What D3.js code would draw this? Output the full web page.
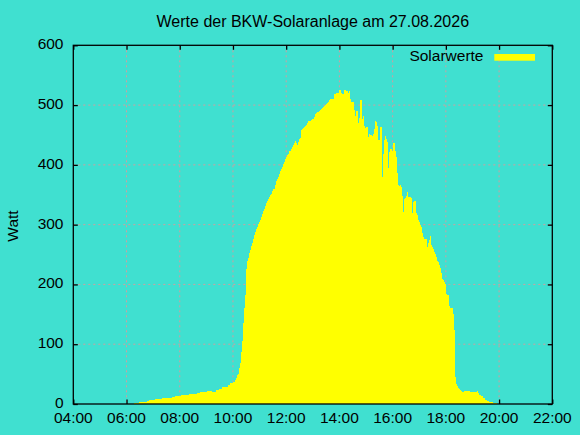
<!DOCTYPE html>
<html>
<head>
<meta charset="utf-8">
<script src="https://cdn.jsdelivr.net/npm/d3@7/dist/d3.min.js"></script>
<style>
  html, body { margin: 0; padding: 0; background: #40E0D0; }
  svg { display: block; }
  text { font-family: "Liberation Sans", Arial, sans-serif; fill: #000; }
</style>
</head>
<body>
<svg id="chart" width="580" height="435"></svg>
<script>
// ---- data ----
const chartTitle = "Werte der BKW-Solaranlage am 27.08.2026";
const yLabel = "Watt";
const seriesName = "Solarwerte";
const xTickLabels = ["04:00","06:00","08:00","10:00","12:00","14:00","16:00","18:00","20:00","22:00"];
const yTickValues = [0, 100, 200, 300, 400, 500, 600];
const sampleStart = "06:17";
const sampleStepMin = 2.25;
const solarValues = [
  2,2,2,2,2, 3,3,3,3,3,3, 4,4,5,5, 7,7,7,7,7,7, 8,8,8,8,8,8,8,
  10,10,10,10,10,10,10,10,10,10, 12,12,12, 13,13,13,13,13,13,
  15,15,15,15,15,15,15,15, 16,17,17,17,17,17,17,17, 18,18,18,
  20,20,20,20,20,20,20, 22,22,22,22,22, 20,20,20,20, 23,23,23, 25,25,25,
  28,28,28,28,28,28, 32,32, 35,35,35, 36,37,40,43,48,
  51,60,68,87,105,135,160,182,
  225,239,245,252,257,264,269,276,282,287,
  292,296,301,304,307,312,317,322,327,332,
  336,339,343,346,349,352,356,359,359,366,
  373,376,379,384,389,393,396,401,404,409,
  413,416,419,423,424,426,430,433,436,440,
  436,434,438,443,445,458,460,461,463,465,
  466,470,473,473,473,475,476,476,480,485,
  486,488,488,490,491,493,495,496,498,500,
  501,503,505,508,
  511,511,511,511, 518,518, 521,521,521, 525,525, 521, 518,518, 526,526, 523,523, 521, 523,
  511, 505,505,505, 491, 481, 490,490, 470, 478, 508,508, 476, 481, 465, 461, 463,463,
  446, 451, 450,450, 448, 451, 460, 473, 471, 465, 441,441, 463,463, 379, 418, 441, 448,
  443, 438, 394, 421, 426,426, 423, 436,436, 424, 413, 386, 366, 364, 366, 363, 348, 321,
  331, 343, 344, 348, 354, 346,346,346, 344, 319, 338, 339,339, 319, 316, 307, 304, 299,
  296, 286, 279, 276,276,276, 262, 269, 274, 281, 266, 262, 259, 254, 251, 246, 239, 237,
  232, 227, 219, 209, 207, 204, 201, 184, 182, 182, 164, 160,160,160, 150, 124,
  46, 33, 30, 27, 25, 23, 22, 20,20, 22,22,22,22,22,22, 20,20,20,20,20,20,20, 22, 18,
  15,15, 13,13, 10,10, 7,7, 5,5, 3,3,3,3, 2,2, 1,1
];

// ---- helpers ----
const toMin = s => { const [h, m] = s.split(":").map(Number); return h * 60 + m; };
const startMin = toMin(sampleStart);
const points = solarValues.map((v, i) => ({ t: startMin + i * sampleStepMin, v }));
points.push({ t: startMin + solarValues.length * sampleStepMin, v: solarValues[solarValues.length - 1] });

// ---- layout ----
const W = 580, H = 435;
const plot = { left: 73.3, right: 552.3, top: 45.3, bottom: 404 };
const svg = d3.select("#chart");
svg.append("rect").attr("width", W).attr("height", H).attr("fill", "#40E0D0");

const x = d3.scaleLinear()
  .domain([toMin(xTickLabels[0]), toMin(xTickLabels[xTickLabels.length - 1])])
  .range([plot.left, plot.right]);
const y = d3.scaleLinear().domain([0, 600]).range([plot.bottom, plot.top]);

const xTicks = xTickLabels.map(toMin);
const fmt = m => String(Math.floor(m / 60)).padStart(2, "0") + ":" + String(m % 60).padStart(2, "0");

// grid
const gridColor = "#cf9f9f";
const grid = svg.append("g");
grid.selectAll("line.gx").data(xTicks.slice(1, -1)).join("line")
  .attr("x1", d => x(d)).attr("x2", d => x(d))
  .attr("y1", plot.top).attr("y2", plot.bottom)
  .attr("stroke", gridColor).attr("stroke-width", 1).attr("stroke-dasharray", "2,3");
grid.selectAll("line.gy").data(yTickValues.slice(1, -1)).join("line")
  .attr("y1", d => y(d)).attr("y2", d => y(d))
  .attr("x1", plot.left).attr("x2", plot.right)
  .attr("stroke", gridColor).attr("stroke-width", 1).attr("stroke-dasharray", "2,3");

// ticks (mirrored, inward) via axes
const tl = 4.5;
const axB = svg.append("g").attr("transform", `translate(0,${plot.bottom})`)
  .call(d3.axisBottom(x).tickValues(xTicks).tickSize(-tl).tickFormat(""));
const axT = svg.append("g").attr("transform", `translate(0,${plot.top})`)
  .call(d3.axisTop(x).tickValues(xTicks).tickSize(-tl).tickFormat(""));
const axL = svg.append("g").attr("transform", `translate(${plot.left},0)`)
  .call(d3.axisLeft(y).tickValues(yTickValues).tickSize(-tl).tickFormat(""));
const axR = svg.append("g").attr("transform", `translate(${plot.right},0)`)
  .call(d3.axisRight(y).tickValues(yTickValues).tickSize(-tl).tickFormat(""));
[axB, axT, axL, axR].forEach(g => {
  g.select(".domain").remove();
  g.selectAll(".tick line").attr("stroke", "#000").attr("stroke-width", 1.3);
});

// data area
const area = d3.area()
  .x(d => x(d.t)).y0(y(0)).y1(d => y(d.v))
  .curve(d3.curveStepAfter);
svg.append("path").datum(points)
  .attr("d", area).attr("fill", "#ffff00").attr("shape-rendering", "crispEdges");

// border
svg.append("rect")
  .attr("x", plot.left).attr("y", plot.top)
  .attr("width", plot.right - plot.left).attr("height", plot.bottom - plot.top)
  .attr("fill", "none").attr("stroke", "#000").attr("stroke-width", 1.3);

// tick labels
svg.append("g").selectAll("text").data(xTicks).join("text")
  .attr("x", d => x(d)).attr("y", 423)
  .attr("text-anchor", "middle").attr("font-size", "15.5px")
  .text(d => fmt(d));
svg.append("g").selectAll("text").data(yTickValues).join("text")
  .attr("x", 63.5).attr("y", d => y(d) + 4)
  .attr("text-anchor", "end").attr("font-size", "15.5px")
  .text(d => d);

// title
svg.append("text").attr("x", (plot.left + plot.right) / 2).attr("y", 27)
  .attr("text-anchor", "middle").attr("font-size", "16px").text(chartTitle);

// y label
svg.append("text").attr("transform", `translate(17.5,226) rotate(-90)`)
  .attr("text-anchor", "middle").attr("font-size", "15.5px").text(yLabel);

// legend
svg.append("text").attr("x", 483.5).attr("y", 60.5)
  .attr("text-anchor", "end").attr("font-size", "15.5px").text(seriesName);
svg.append("rect").attr("x", 494.3).attr("y", 54).attr("width", 40.7).attr("height", 6.7)
  .attr("fill", "#ffff00");
</script>
</body>
</html>
